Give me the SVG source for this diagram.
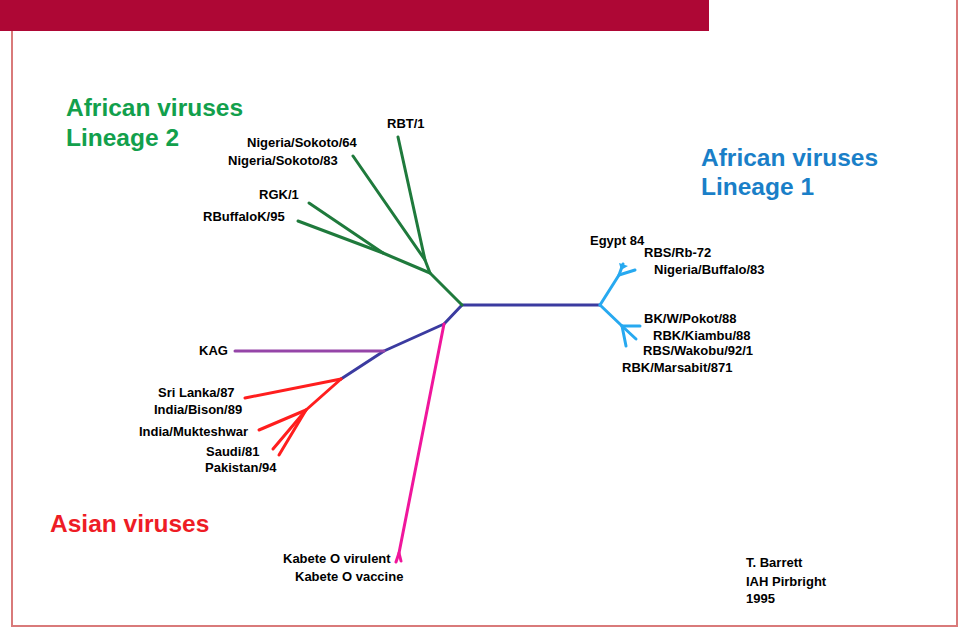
<svg xmlns="http://www.w3.org/2000/svg" width="959" height="631" viewBox="0 0 959 631">
<style>
.lbl{font-family:"Liberation Sans",Arial,sans-serif;font-weight:bold;font-size:13px;fill:#000}
.hd{font-family:"Liberation Sans",Arial,sans-serif;font-weight:bold;font-size:24.5px}
.br{fill:none;stroke-width:3;stroke-linecap:round;stroke-linejoin:round}
.g{stroke:#1f7a3c}.b{stroke:#3b3ba0}.lb{stroke:#27a9f0}.p{stroke:#9545a8}.r{stroke:#ff1e1e}.m{stroke:#f0169c}
</style>
<rect x="0" y="0" width="959" height="631" fill="#fff"/>
<path d="M12 31 V626 H957 V0" fill="none" stroke="#d97a7a" stroke-width="2"/>
<rect x="0" y="0" width="709" height="31" fill="#ae0735"/>
<g id="headings">
<text class="hd" x="66" y="116" fill="#12a04c">African viruses</text>
<text class="hd" x="66" y="146" fill="#12a04c">Lineage 2</text>
<text class="hd" x="701" y="166" fill="#1a7fc8">African viruses</text>
<text class="hd" x="701" y="195" fill="#1a7fc8">Lineage 1</text>
<text class="hd" x="50" y="532" fill="#ee1c25">Asian viruses</text>
</g>
<g id="connectors">
<polyline class="br b" points="600,305 462,305 444,324 384,351 341,379"/>
<polyline class="br g" points="462,305 430,273 425,260 398,137"/>
<polyline class="br g" points="425,260 353,156"/>
<polyline class="br g" points="430,273 383,253 309,203"/>
<polyline class="br g" points="383,253 298,221"/>
<polyline class="br p" points="235,351 384,351"/>
<polyline class="br m" points="444,324 399,553 396,562"/>
<polyline class="br m" points="399,553 401,561"/>
<polyline class="br r" points="341,379 245,398"/>
<polyline class="br r" points="341,379 306,410 259,430"/>
<polyline class="br r" points="306,410 273,449"/>
<polyline class="br r" points="306,410 279,455"/>
<polyline class="br lb" points="600,305 619,275 623,264"/>
<polygon points="619,263 628,266 621,270" fill="#27a9f0"/>
<polyline class="br lb" points="619,275 635,270"/>
<polyline class="br lb" points="600,305 622,326 640,326"/>
<polyline class="br lb" points="622,326 636,339"/>
<polyline class="br lb" points="622,326 626,346"/>
</g>
<g id="lineage2">
<text class="lbl" x="387" y="128">RBT/1</text>
<text class="lbl" x="247" y="147">Nigeria/Sokoto/64</text>
<text class="lbl" x="228" y="165">Nigeria/Sokoto/83</text>
<text class="lbl" x="259" y="199">RGK/1</text>
<text class="lbl" x="203" y="221">RBuffaloK/95</text>
</g>
<g id="lineage1">
<text class="lbl" x="590" y="245">Egypt 84</text>
<text class="lbl" x="644" y="257">RBS/Rb-72</text>
<text class="lbl" x="654" y="274">Nigeria/Buffalo/83</text>
<text class="lbl" x="644" y="323">BK/W/Pokot/88</text>
<text class="lbl" x="653" y="340">RBK/Kiambu/88</text>
<text class="lbl" x="643" y="355">RBS/Wakobu/92/1</text>
<text class="lbl" x="622" y="372">RBK/Marsabit/871</text>
</g>
<g id="asian">
<text class="lbl" x="199" y="355">KAG</text>
<text class="lbl" x="158" y="397">Sri Lanka/87</text>
<text class="lbl" x="154" y="414">India/Bison/89</text>
<text class="lbl" x="139" y="436">India/Mukteshwar</text>
<text class="lbl" x="206" y="456">Saudi/81</text>
<text class="lbl" x="205" y="472">Pakistan/94</text>
</g>
<g id="kabete">
<text class="lbl" x="283" y="563">Kabete O virulent</text>
<text class="lbl" x="295" y="581">Kabete O vaccine</text>
</g>
<g id="credit">
<text class="lbl" x="746" y="567">T. Barrett</text>
<text class="lbl" x="746" y="586">IAH Pirbright</text>
<text class="lbl" x="746" y="603">1995</text>
</g>
</svg>
